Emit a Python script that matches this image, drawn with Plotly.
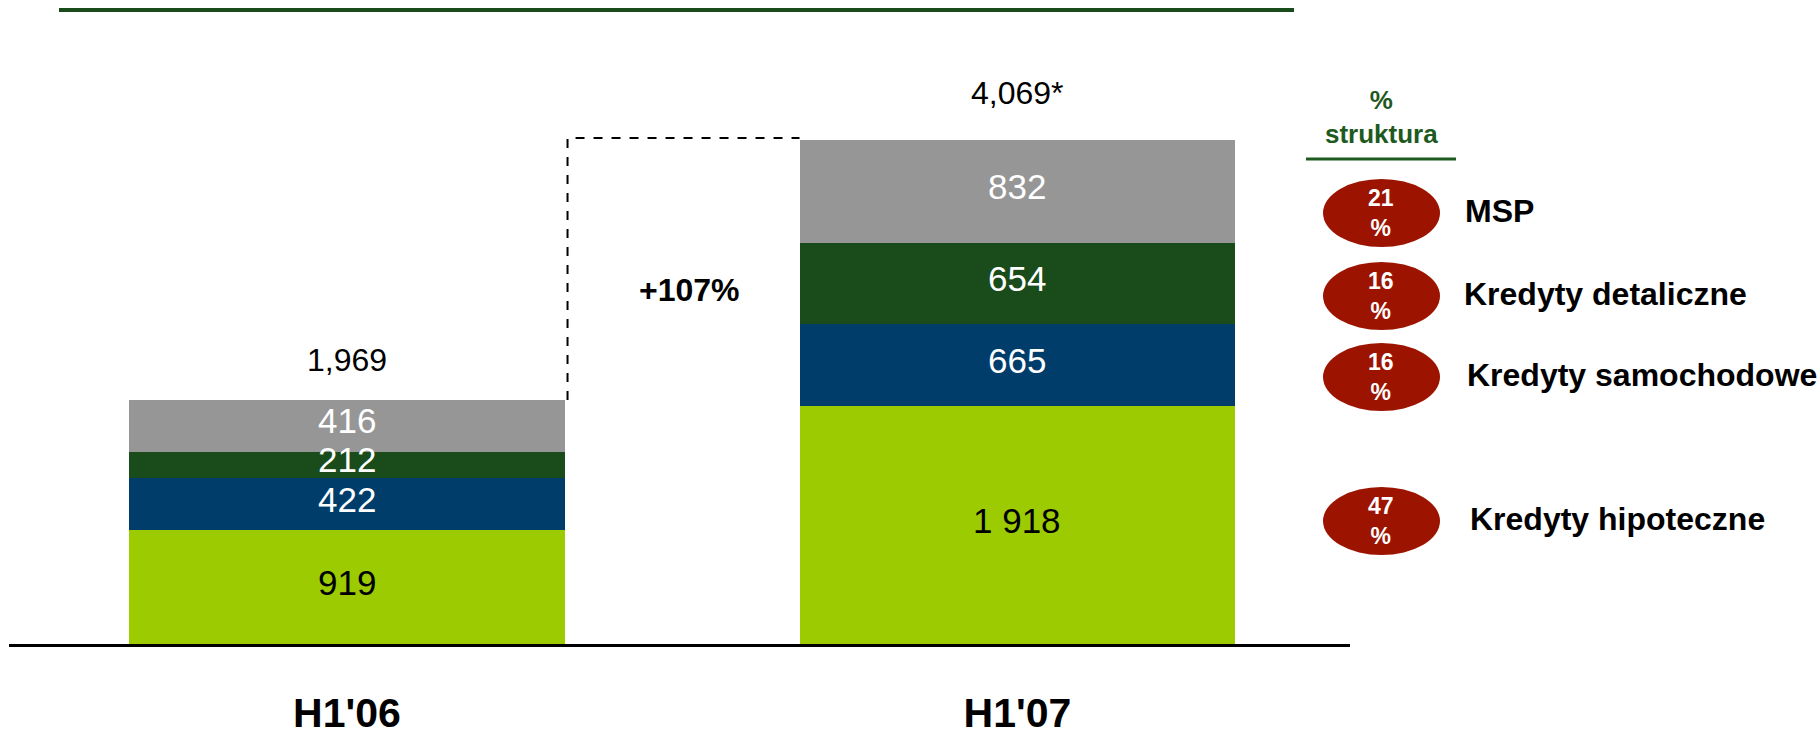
import plotly.graph_objects as go

# ---- data ----
categories = ["H1'06", "H1'07"]
series_names = ["Kredyty hipoteczne", "Kredyty samochodowe", "Kredyty detaliczne", "MSP"]
hipoteczne = [919, 1918]
samochodowe = [422, 665]
detaliczne = [212, 654]
msp = [416, 832]
hipoteczne_text = ["919", "1 918"]
samochodowe_text = ["422", "665"]
detaliczne_text = ["212", "654"]
msp_text = ["416", "832"]
totals = [1969, 4069]
totals_text = ["1,969", "4,069*"]
structure_pct = [21, 16, 16, 47]          # MSP, detaliczne, samochodowe, hipoteczne
structure_labels = ["MSP", "Kredyty detaliczne", "Kredyty samochodowe", "Kredyty hipoteczne"]

# ---- style ----
W, H = 1820, 729
FONT = "Liberation Sans, Arial, sans-serif"
col_hip = "#9BCB00"
col_sam = "#003D6B"
col_det = "#1A4B1A"
col_msp = "#969696"
col_oval = "#9C1400"
col_green = "#1E5A1E"
BAR_W = 0.65

def px_x(p):
    return p / W

def px_y(p):
    return 1 - p / H

xpos = list(range(len(categories)))

fig = go.Figure()
stack = [
    (hipoteczne, hipoteczne_text, col_hip, "black", series_names[0]),
    (samochodowe, samochodowe_text, col_sam, "white", series_names[1]),
    (detaliczne, detaliczne_text, col_det, "white", series_names[2]),
    (msp, msp_text, col_msp, "white", series_names[3]),
]
base = [0] * len(xpos)
for vals, txt, col, tcol, name in stack:
    fig.add_trace(go.Bar(
        x=xpos, y=vals, name=name, width=BAR_W,
        marker=dict(color=col, line=dict(width=0)),
        hoverinfo="skip",
    ))
    for i, (v, t) in enumerate(zip(vals, txt)):
        fig.add_annotation(x=xpos[i], y=base[i] + v / 2, text=t, showarrow=False,
                           xanchor="center", yanchor="middle", yshift=5,
                           font=dict(family=FONT, size=35, color=tcol))
        base[i] += v

# totals above bars
tot_shift = [40, 47]
for i, (t, tt) in enumerate(zip(totals, totals_text)):
    fig.add_annotation(x=xpos[i], y=t, text=tt, showarrow=False,
                       xanchor="center", yanchor="middle", yshift=tot_shift[i],
                       font=dict(family=FONT, size=32, color="black"))

# dashed connector
x0 = xpos[0] + BAR_W / 2 + 0.004
x1 = xpos[1] - BAR_W / 2
fig.add_shape(type="path",
              path=f"M {x0},{totals[0]} L {x0},{totals[1] + 15} L {x1},{totals[1] + 15}",
              line=dict(color="black", width=2, dash="dash"))

growth = round((totals[1] / totals[0] - 1) * 100)
fig.add_annotation(x=0.5, y=px_y(290), yref="paper", text=f"<b>+{growth}%</b>",
                   showarrow=False, xanchor="center", yanchor="middle", xshift=7,
                   font=dict(family=FONT, size=32, color="black"))

# top green rule
fig.add_shape(type="line", xref="paper", yref="paper",
              x0=px_x(59), x1=px_x(1294), y0=px_y(10), y1=px_y(10),
              line=dict(color=col_det, width=4))

# structure header
fig.add_annotation(xref="paper", yref="paper", x=px_x(1381), y=px_y(117),
                   text="<b>%<br>struktura</b>", showarrow=False,
                   xanchor="center", yanchor="middle",
                   font=dict(family=FONT, size=26, color=col_green))
fig.add_shape(type="line", xref="paper", yref="paper",
              x0=px_x(1306), x1=px_x(1456), y0=px_y(159), y1=px_y(159),
              line=dict(color=col_green, width=3))

oval_cy = [213, 296, 377, 521]
label_x = [1463, 1462, 1465, 1468]
for pct, lab, cy, lx in zip(structure_pct, structure_labels, oval_cy, label_x):
    fig.add_shape(type="circle", xref="paper", yref="paper",
                  x0=px_x(1323), x1=px_x(1440), y0=px_y(cy - 34), y1=px_y(cy + 34),
                  fillcolor=col_oval, line=dict(width=0), layer="below")
    fig.add_annotation(xref="paper", yref="paper", x=px_x(1381), y=px_y(cy),
                       text=f"<b>{pct}<br>%</b>", showarrow=False,
                       xanchor="center", yanchor="middle",
                       font=dict(family=FONT, size=23, color="white"))
    fig.add_annotation(xref="paper", yref="paper", x=px_x(lx), y=px_y(cy - 2),
                       xanchor="left", yanchor="middle", text=f"<b>{lab}</b>",
                       showarrow=False,
                       font=dict(family=FONT, size=32, color="black"))

fig.update_layout(
    width=W, height=H,
    margin=dict(l=0, r=0, t=0, b=0, autoexpand=False),
    paper_bgcolor="white", plot_bgcolor="white",
    barmode="stack", showlegend=False,
    xaxis=dict(domain=[px_x(9), px_x(1350)], range=[-0.504, 1.496],
               tickvals=xpos, ticktext=[f"<b>{c}</b>" for c in categories],
               tickfont=dict(family=FONT, size=41, color="black"),
               ticks="outside", ticklen=31, tickcolor="rgba(0,0,0,0)",
               showline=True, linecolor="black", linewidth=3,
               showgrid=False, zeroline=False, fixedrange=True,
               automargin=False),
    yaxis=dict(domain=[1 - 644 / H, 1], range=[0, 644 / 0.12387],
               visible=False, showgrid=False, zeroline=False, fixedrange=True),
)

fig.write_html("out.html", config={"displayModeBar": False},
               post_script="document.body.style.margin='0';document.body.style.overflow='hidden';")
